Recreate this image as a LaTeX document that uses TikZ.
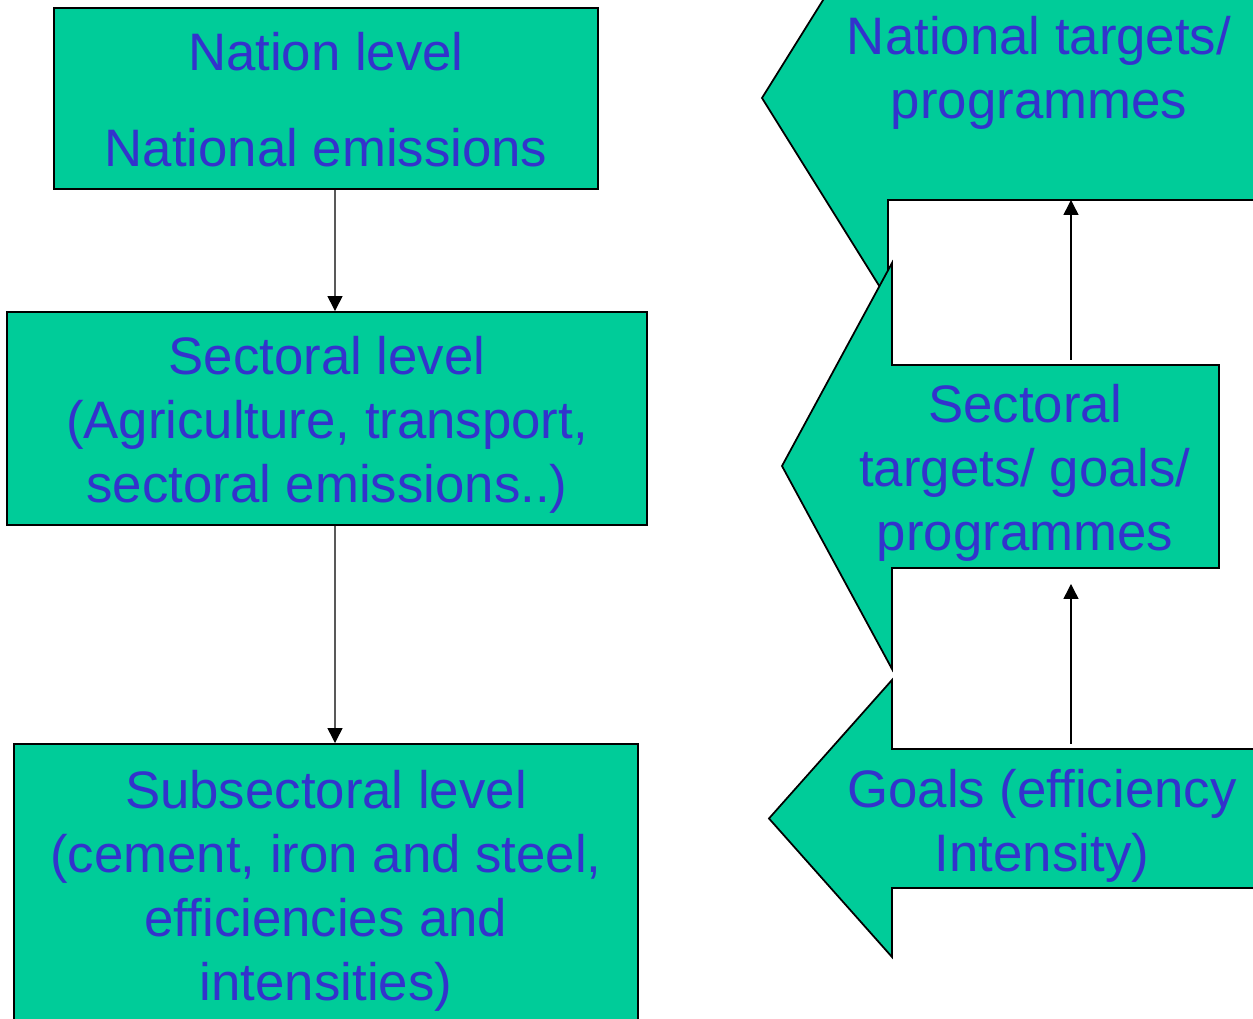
\documentclass[tikz,border=0pt]{standalone}
\usepackage{fontspec}
\setmainfont{Liberation Sans}
\usetikzlibrary{arrows.meta,positioning}
\definecolor{boxgreen}{RGB}{0,204,153}
\definecolor{textblue}{RGB}{51,51,204}
\tikzset{
  level/.style={rectangle,draw=black,line width=0.5pt,fill=boxgreen,inner sep=0pt},
  leveltext/.style={text=textblue,align=center,font=\fontsize{15}{18.2}\selectfont,inner sep=0pt},
  goal/.style={draw=black,line width=0.5pt,fill=boxgreen},
  link/.style={-{Triangle[length=0.15cm,width=0.15cm]},line width=0.4pt}
}
\begin{document}
\begin{tikzpicture}[x=0.01cm,y=-0.01cm]
  \clip (0,0) rectangle (1253,1019);
  \fill[white] (0,0) rectangle (1253,1019);
  % left column: levels
  \node[level,minimum width=5.44cm,minimum height=1.81cm] (nation) at (326,98.5) {};
  \node[level,minimum width=6.40cm,minimum height=2.13cm] (sector) at (327,418.5) {};
  \node[level,minimum width=6.24cm,minimum height=2.82cm] (subsector) at (326,885) {};
  \node[leveltext] (nationtxt) at ([yshift=-0.01cm]nation.center) {Nation level\\[0.32cm]National emissions};
  \node[leveltext] (sectortxt) at ([yshift=-0.06cm]sector.center) {Sectoral level\\(Agriculture, transport,\\sectoral emissions..)};
  \node[leveltext] (subsectortxt) at ([yshift=-0.055cm]subsector.center) {Subsectoral level\\(cement, iron and steel,\\efficiencies and\\intensities)};
  \draw[link] ([xshift=0.09cm]nation.south) -- ([xshift=0.08cm]sector.north);
  \draw[link] ([xshift=0.08cm]sector.south) -- ([xshift=0.09cm]subsector.north);
  % right column: targets and goals
  \draw[goal] (1260,-4) -- (888,-4) -- (888,-104) -- (762,98) -- (888,300) -- (888,200) -- (1260,200) -- cycle;
  \draw[goal] (1219,365) -- (892,365) -- (892,263) -- (782,466) -- (892,669) -- (892,568) -- (1219,568) -- cycle;
  \draw[goal] (1260,749) -- (892,749) -- (892,680) -- (769,818.5) -- (892,957) -- (892,888) -- (1260,888) -- cycle;
  \node[leveltext] (nattxt) at (1039,73) {National targets/\\programmes};
  \node[leveltext] (secttxt) at (1025,472.5) {Sectoral\\targets/ goals/\\programmes};
  \node[leveltext] (goaltxt) at (1042,825.5) {Goals (efficiency\\Intensity)};
  \coordinate (natfoot) at (1071,200);
  \coordinate (secthead) at (1071,360);
  \coordinate (sectfoot) at (1071,584);
  \coordinate (goalhead) at (1071,744);
  \draw[link] (secthead) -- (natfoot);
  \draw[link] (goalhead) -- (sectfoot);
\end{tikzpicture}
\end{document}
